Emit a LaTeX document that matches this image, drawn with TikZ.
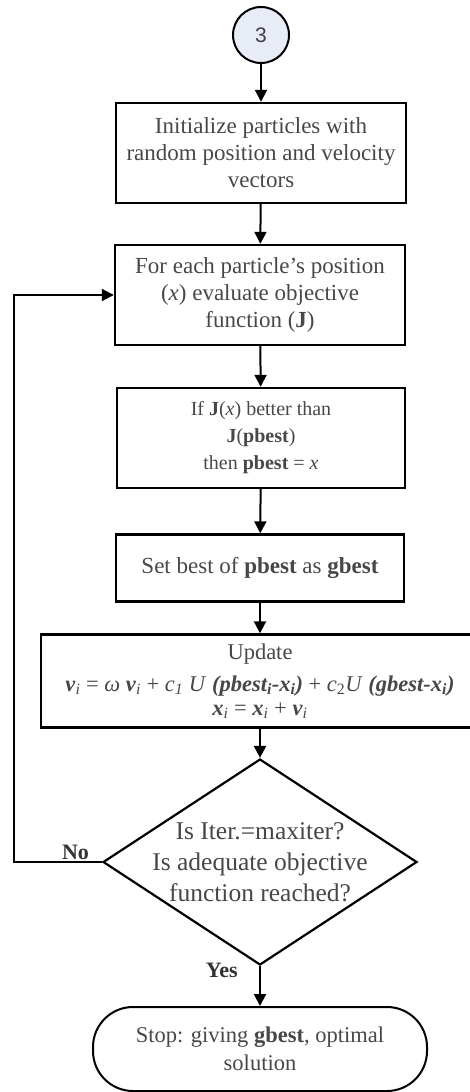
\documentclass[tikz,border=0pt]{standalone}
\usepackage{fontspec}
\setmainfont{Liberation Serif}
\setsansfont{Liberation Sans}
\usepackage{tikz}
\usetikzlibrary{arrows.meta,shapes.geometric}

\definecolor{connfill}{RGB}{232,236,246}
\newcommand{\bitx}[1]{\textbf{\textit{#1}}}

\begin{document}
\begin{tikzpicture}[x=1pt, y=-1pt,
  proc/.style={draw, line width=2.4pt, align=center, text=black!72,
    minimum width=290pt, minimum height=100pt, inner sep=0pt,
    font=\fontsize{23}{27}\selectfont},
  conn/.style={draw, circle, line width=2pt, fill=connfill, minimum size=56pt,
    inner sep=0pt, text=black!75, font=\sffamily\fontsize{21}{24}\selectfont},
  dec/.style={draw, diamond, line width=2.2pt, minimum width=314pt, minimum height=206pt,
    inner sep=0pt},
  term/.style={draw, line width=2pt, rounded corners=40pt, align=center, text=black!72,
    minimum width=334pt, minimum height=84pt, inner sep=0pt,
    font=\fontsize{22.5}{28}\selectfont},
  flow/.style={draw, line width=2pt, -{Triangle[length=12pt,width=12pt]}},
  tag/.style={font=\bfseries\fontsize{22}{24}\selectfont, text=black!80}
]
  \useasboundingbox (0,0) rectangle (470,1092);
  \clip (0,0) rectangle (470,1092);
  \node[conn] (start) at (261,35) {3};
  \node[proc] (init) at (261,153) {Initialize particles with\\random position and velocity\\vectors};
  \node[proc] (evalobj) at (260,295) {For each particle’s position\\(\textit{x}) evaluate objective\\function (\textbf{J})};
  \node[proc, minimum width=288pt, font=\fontsize{20}{27}\selectfont] (pbestupd) at (261,438) {If \textbf{J}(\textit{x}) better than\\\textbf{J}(\textbf{pbest})\\then \textbf{pbest} = \textit{x}};
  \node[proc, minimum width=288pt, minimum height=67pt] (gbestset) at (260,568) {Set best of \textbf{pbest} as \textbf{gbest}};
  \node[proc, minimum width=438pt, minimum height=93pt, font=\fontsize{22.5}{24}\selectfont] (update) at (260,681)
    {Update\\[8pt]\bitx{v}\textsubscript{\textit{i}} = \textit{ω} \bitx{v}\textsubscript{\textit{i}} + \textit{c}\textsubscript{\textit{1}} \textit{U} \bitx{(pbest\textsubscript{i}-x\textsubscript{i})} + \textit{c}\textsubscript{2}\textit{U} \bitx{(gbest-x\textsubscript{i})}\\\bitx{x}\textsubscript{\textit{i}} = \bitx{x}\textsubscript{\textit{i}} + \bitx{v}\textsubscript{\textit{i}}};
  \node[dec] (check) at (260,862) {};
  \node[align=center, text=black!72, font=\fontsize{25.5}{31}\selectfont] (checktext) at (check.center) {Is Iter.=maxiter?\\Is adequate objective\\function reached?};
  \node[term] (stop) at (260,1049) {Stop: giving \textbf{gbest}, optimal\\solution};
  \coordinate (loopcorner) at (14,862);

  \draw[flow] (start) -- (init);
  \draw[flow] (init) -- (evalobj);
  \draw[flow] (evalobj) -- (pbestupd);
  \draw[flow] (pbestupd) -- (gbestset);
  \draw[flow] (gbestset) -- (update);
  \draw[flow] (update) -- (check);
  \draw[flow] (check.south) -- node[tag, pos=0.1, left=18pt]{Yes} (stop.north);
  \draw[flow] (check.west) -- node[tag, pos=0.3, above=-2pt]{No} (loopcorner) |- (evalobj.west);
\end{tikzpicture}
\end{document}
